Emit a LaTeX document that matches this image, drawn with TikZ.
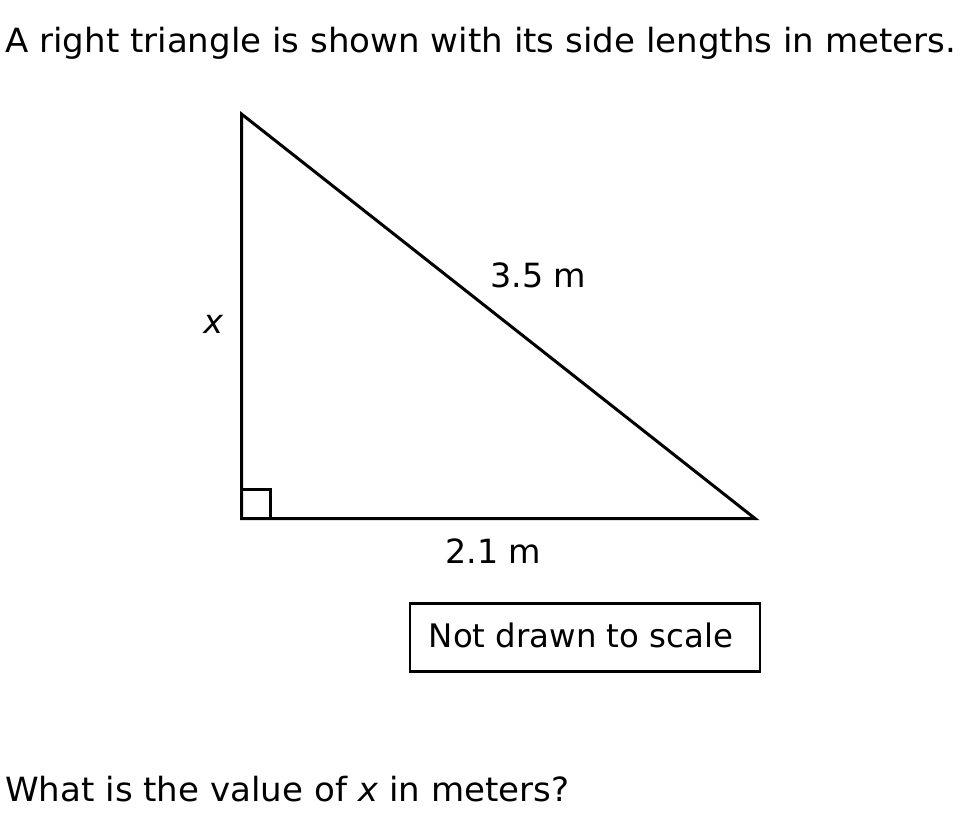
\documentclass[tikz,border=0pt]{standalone}
\usepackage{fontspec}
\setmainfont{DejaVu Sans}
\usetikzlibrary{calc}
\begin{document}
\begin{tikzpicture}[x=0.75pt,y=-0.75pt,
  txt/.style={inner sep=0pt,anchor=base west,font=\fontsize{25}{30}\selectfont},
  edge/.style={line width=2.25pt,line join=miter},
  notebox/.style={draw,line width=1.6pt,inner sep=0pt,minimum width=263pt,minimum height=51pt}]
\useasboundingbox (0,0) rectangle (960,814);
\node[txt] (title) at (5,52) {\scalebox{1.022}[1]{A right triangle is shown with its side lengths in meters.}};
\coordinate (A) at (241.5,114);
\coordinate (B) at (241.5,518.5);
\coordinate (C) at (755,518.5);
\draw[edge] (A) -- (B) -- (C) -- cycle;
\draw[line width=2.25pt] ($(B)+(0,-29)$) -- ++(29,0) -- ++(0,29);
\node[txt] (hyp) at (490,287) {3.5 m};
\node[txt] (bas) at (445,563) {2.1 m};
\node[txt] (xl) at (203,333) {\itshape x};
\node[notebox] (box) at (585,637.5) {};
\node[txt,anchor=base,font=\fontsize{24.3}{29}\selectfont] (nts) at (581,647) {Not drawn to scale};
\node[txt] (q) at (5,801) {\scalebox{1.022}[1]{What is the value of \textit{x} in meters?}};
\end{tikzpicture}
\end{document}
